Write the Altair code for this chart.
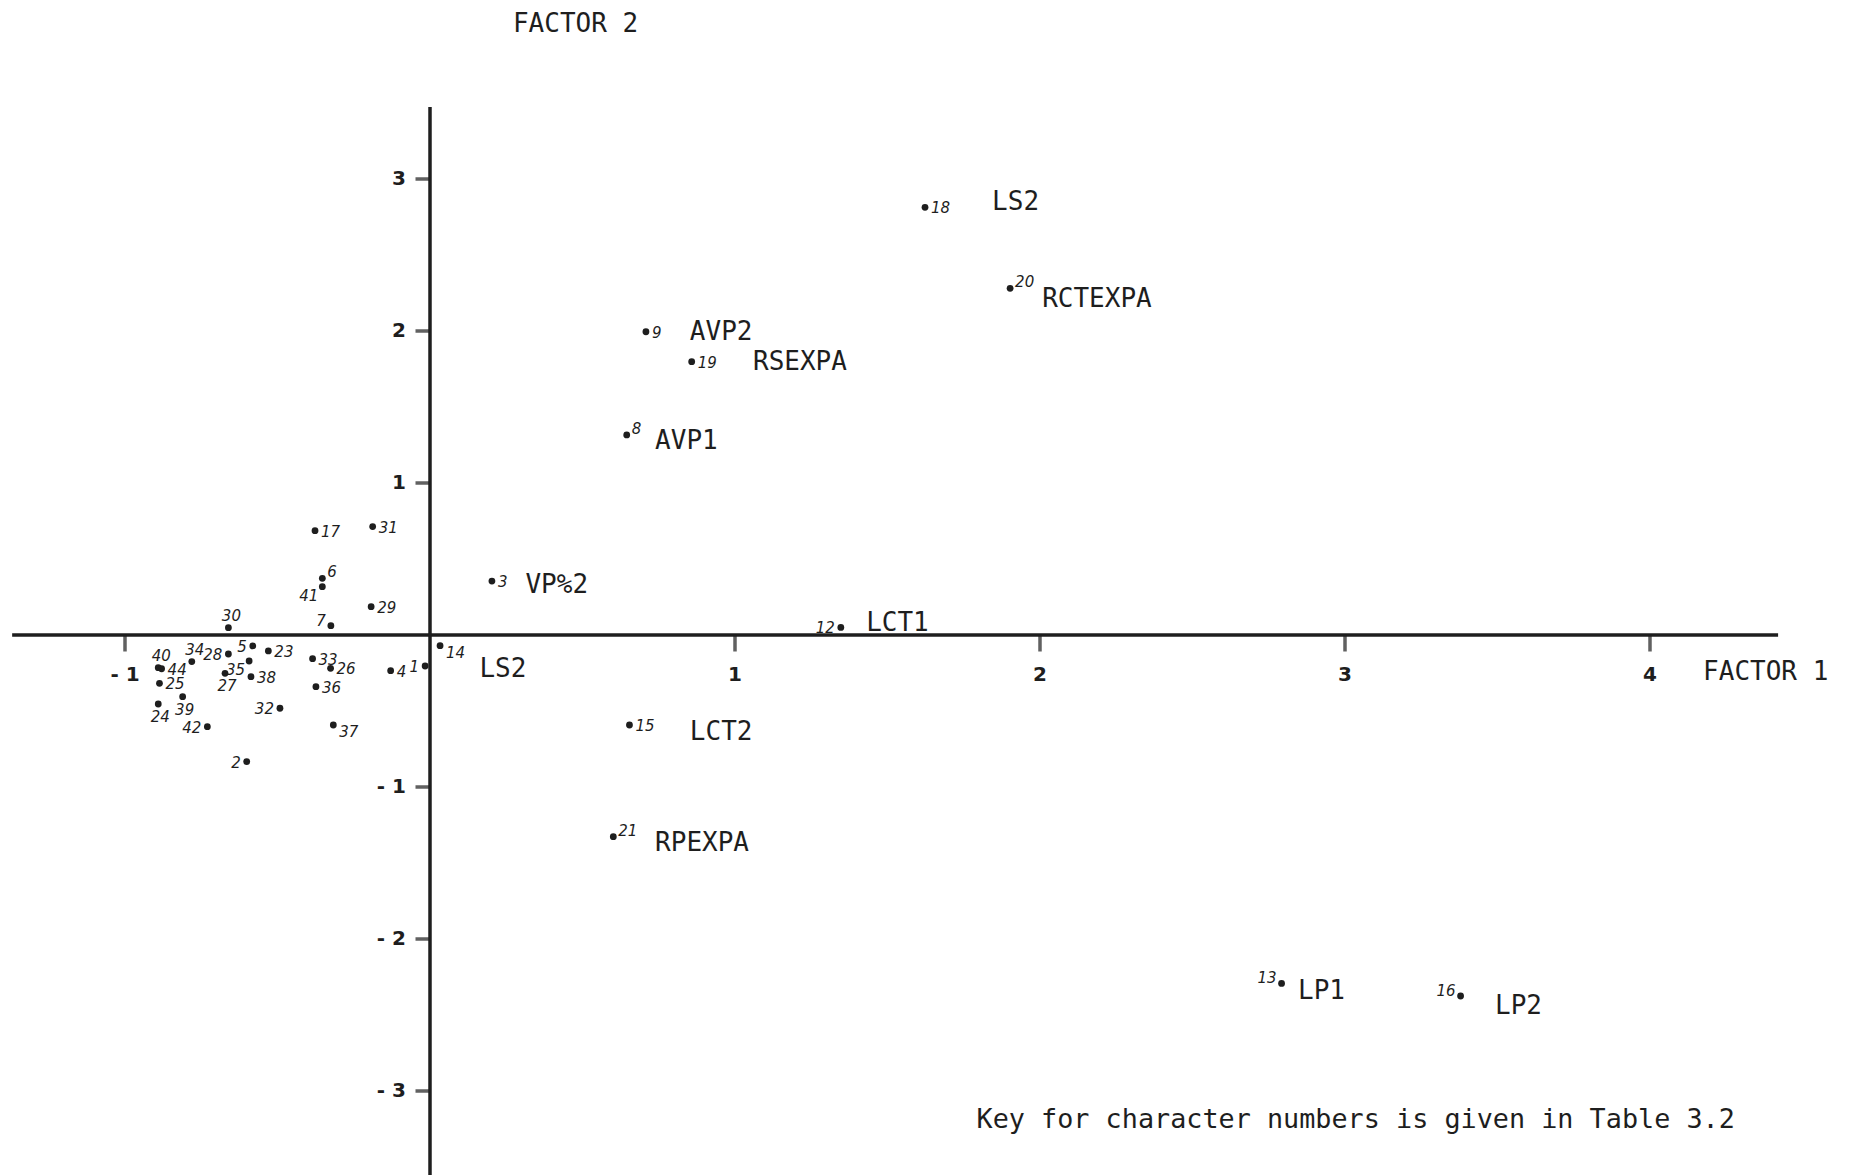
import altair as alt
import pandas as pd

# ---- data (factor scores) ----
ids = [30, 5, 23, 28, 35, 27, 38, 34, 40, 44, 25, 39, 24, 42, 2, 32, 33, 26, 36, 37,
       4, 1, 7, 29, 41, 6, 17, 31, 3, 14, 18, 20, 9, 19, 8, 12, 15, 21, 13, 16]
f1 = [-0.661, -0.581, -0.530, -0.661, -0.593, -0.672, -0.587, -0.781, -0.891, -0.880,
      -0.887, -0.811, -0.891, -0.730, -0.601, -0.492, -0.385, -0.326, -0.374, -0.317,
      -0.129, -0.016, -0.325, -0.193, -0.353, -0.353, -0.377, -0.188, 0.203, 0.033,
      1.623, 1.902, 0.708, 0.858, 0.645, 1.347, 0.654, 0.601, 2.792, 3.379]
f2 = [0.048, -0.072, -0.105, -0.125, -0.171, -0.252, -0.274, -0.175, -0.215, -0.222,
      -0.318, -0.406, -0.454, -0.603, -0.833, -0.482, -0.156, -0.219, -0.340, -0.592,
      -0.235, -0.204, 0.061, 0.186, 0.318, 0.373, 0.686, 0.713, 0.355, -0.070,
      2.814, 2.281, 1.995, 1.798, 1.316, 0.050, -0.592, -1.327, -2.292, -2.375]
# side of the dot on which the character number is written
side = ["a", "l", "r", "l", "lb", "b", "r", "a", "a", "r",
        "r", "b", "b", "l", "l", "l", "r", "r", "r", "rb",
        "r", "l", "la", "r", "lb", "ra", "r", "r", "r", "rb",
        "r", "ra", "r", "r", "ra", "l", "r", "ra", "la", "la"]

# variable names written beside some points (anchor in factor units)
names = ["LS2", "RCTEXPA", "AVP2", "RSEXPA", "AVP1", "VP%2", "LCT1", "LS2",
         "LCT2", "RPEXPA", "LP1", "LP2"]
name_f1 = [1.843, 2.007, 0.852, 1.059, 0.738, 0.313, 1.430, 0.162,
           0.852, 0.738, 2.846, 3.492]
name_f2 = [2.849, 2.211, 1.993, 1.793, 1.278, 0.331, 0.082, -0.222,
           -0.636, -1.371, -2.341, -2.439]

x_ticks = [-1, 1, 2, 3, 4]
x_tick_labels = ["- 1", "1", "2", "3", "4"]
y_ticks = [3, 2, 1, -1, -2, -3]
y_tick_labels = ["3", "2", "1", "- 1", "- 2", "- 3"]

notes = ["FACTOR 2", "FACTOR 1", "Key for character numbers is given in Table 3.2"]
notes_f1 = [0.272, 4.174, 1.792]
notes_f2 = [4.02, -0.243, -3.19]

# ---- scales ----
X_DOM = [-430 / 305, (1856 - 430) / 305]
Y_DOM = [(635 - 1175) / 152, 635 / 152]
xs = alt.Scale(domain=X_DOM, nice=False, zero=False)
ys = alt.Scale(domain=Y_DOM, nice=False, zero=False)
INK = "#1e1e1e"


def X(f="x"):
    return alt.X(f"{f}:Q", scale=xs, axis=None)


def Y(f="y"):
    return alt.Y(f"{f}:Q", scale=ys, axis=None)


pts = pd.DataFrame({"id": [str(i) for i in ids], "x": f1, "y": f2, "side": side})
nm = pd.DataFrame({"name": names, "x": name_f1, "y": name_f2})
xt = pd.DataFrame({"x": x_ticks, "y": [0] * len(x_ticks), "lab": x_tick_labels})
yt = pd.DataFrame({"x": [0] * len(y_ticks), "y": y_ticks, "lab": y_tick_labels})
nt = pd.DataFrame({"t": notes, "x": notes_f1, "y": notes_f2,
                   "fs": [26, 26, 26.8]})

xaxis = alt.Chart(pd.DataFrame({"x": [-1.37], "x2": [4.42], "y": [0]})).mark_rule(
    color=INK, strokeWidth=3.5).encode(x=X(), x2="x2:Q", y=Y())
yaxis = alt.Chart(pd.DataFrame({"x": [0], "y": [3.474], "y2": [Y_DOM[0]]})).mark_rule(
    color=INK, strokeWidth=3.5).encode(x=X(), y=Y(), y2="y2:Q")

xtick = alt.Chart(xt).mark_tick(orient="vertical", size=17, thickness=3.5, color=INK,
                                yOffset=8).encode(x=X(), y=Y())
ytick = alt.Chart(yt).mark_tick(orient="horizontal", size=15, thickness=3.5, color=INK,
                                xOffset=-7).encode(x=X(), y=Y())
xlab = alt.Chart(xt).mark_text(font="DejaVu Sans", fontWeight="bold", fontSize=20,
                               dy=40, baseline="middle", align="center", color=INK).encode(
    x=X(), y=Y(), text="lab:N")
ylab = alt.Chart(yt).mark_text(font="DejaVu Sans", fontWeight="bold", fontSize=20,
                               dx=-24, baseline="middle", align="right", color=INK).encode(
    x=X(), y=Y(), text="lab:N")

dots = alt.Chart(pts).mark_circle(size=46, color=INK, opacity=1).encode(x=X(), y=Y())

side_style = {
    "r": ("left", "middle", 6, 1),
    "ra": ("left", "middle", 5, -6),
    "rb": ("left", "middle", 6, 7),
    "l": ("right", "middle", -6, 1),
    "la": ("right", "middle", -5, -5),
    "lb": ("right", "middle", -4, 9),
    "a": ("center", "bottom", 3, -4),
    "b": ("center", "top", 2, 6),
}
num_layers = []
for s, (al, bl, dx, dy) in side_style.items():
    num_layers.append(
        alt.Chart(pts).transform_filter(alt.datum.side == s).mark_text(
            font="DejaVu Sans", fontStyle="italic", fontSize=15, align=al, baseline=bl,
            dx=dx, dy=dy, color=INK).encode(x=X(), y=Y(), text="id:N"))

name_text = alt.Chart(nm).mark_text(font="DejaVu Sans Mono", fontSize=26, align="left",
                                    baseline="middle", color=INK).encode(
    x=X(), y=Y(), text="name:N")

note_text = alt.Chart(nt).mark_text(
    font="DejaVu Sans Mono", align="left", baseline="middle",
    color=INK).encode(x=X(), y=Y(), text="t:N",
                      size=alt.Size("fs:Q", scale=None, legend=None))

chart = alt.layer(xaxis, yaxis, xtick, ytick, xlab, ylab, dots, *num_layers, name_text,
                  note_text).properties(
    width=1856, height=1175, padding=0, background="white",
    autosize=alt.AutoSizeParams(type="none")
).configure_view(stroke=None)

chart.save("out.html", embed_options={"renderer": "svg", "actions": False})
